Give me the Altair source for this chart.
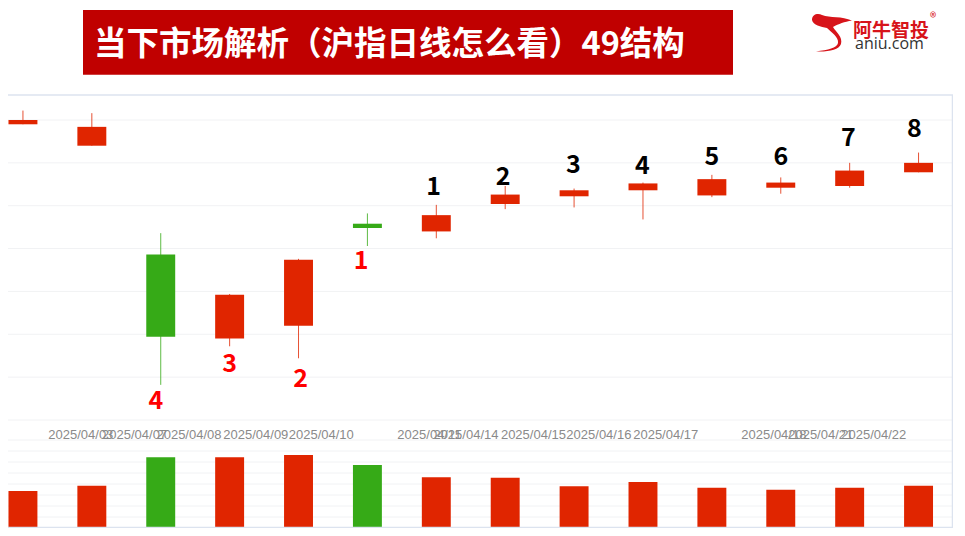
import altair as alt
import pandas as pd

# ---------------- data ----------------
dates = ["2025/04/02", "2025/04/03", "2025/04/07", "2025/04/08", "2025/04/09",
         "2025/04/10", "2025/04/11", "2025/04/14", "2025/04/15", "2025/04/16",
         "2025/04/17", "2025/04/18", "2025/04/21", "2025/04/22"]
open_ = [3345, 3320, 3193, 3095, 3110, 3229, 3220, 3252, 3261, 3268, 3262, 3271, 3273, 3289]
high = [3361, 3358, 3218, 3147, 3188, 3241, 3251, 3273, 3270, 3277, 3286, 3283, 3300, 3312]
low = [3345, 3320, 3041, 3086, 3072, 3203, 3212, 3246, 3248, 3234, 3260, 3264, 3271, 3289]
close = [3350, 3342, 3097, 3146, 3187, 3224, 3239, 3263, 3268, 3276, 3281, 3277, 3291, 3300]
volume = [3360, 3850, 6430, 6430, 6640, 5730, 4610, 4570, 3790, 4180, 3660, 3480, 3660, 3850]

# date tick labels and where the chart library placed them (in candle-index units)
tick_labels = ["2025/04/03", "2025/04/07", "2025/04/08", "2025/04/09", "2025/04/10",
               "2025/04/11", "2025/04/14", "2025/04/15", "2025/04/16", "2025/04/17",
               "2025/04/18", "2025/04/21", "2025/04/22"]
tick_pos = [0.84, 1.62, 2.41, 3.38, 4.33, 5.90, 6.43, 7.41, 8.36, 9.33, 10.90, 11.58, 12.35]

# annotation numbers
black_text = ["1", "2", "3", "4", "5", "6", "7", "8"]
black_pos = [5.96, 6.97, 7.99, 8.99, 10.0, 11.0, 11.98, 12.94]
black_price = [3272, 3284, 3297, 3296, 3307, 3307, 3329, 3340]
red_text = ["4", "3", "2", "1"]
red_pos = [1.93, 3.0, 4.03, 4.91]
red_price = [3022, 3065, 3048, 3185]

price_grid = [3000, 3050, 3100, 3150, 3200, 3250, 3300, 3350]
vol_grid = [0, 1000, 2000, 3000, 4000, 5000, 6000, 7000, 8000]

title_text = "当下市场解析（沪指日线怎么看）49结构"

# ---------------- frames ----------------
df = pd.DataFrame({
    "idx": list(range(len(dates))), "date": dates, "open": open_, "high": high,
    "low": low, "close": close, "volume": volume,
})
df["dir"] = ["up" if c >= o else "down" for o, c in zip(open_, close)]
ticks = pd.DataFrame({"pos": tick_pos, "label": tick_labels})
blk = pd.DataFrame({"pos": black_pos, "price": black_price, "t": black_text})
red = pd.DataFrame({"pos": red_pos, "price": red_price, "t": red_text})
pg = pd.DataFrame({"v": price_grid})
vg = pd.DataFrame({"v": vol_grid})
one = pd.DataFrame({"a": [0]})

W, H = 945, 520
X = alt.Scale(domain=[-0.217, 13.5], nice=False, zero=False)
YP = alt.Scale(domain=[3000, 3350], range=[412, 112], nice=False, zero=False)
YV = alt.Scale(domain=[0, 8000], range=[520, 432], nice=False, zero=False)
COL = alt.Scale(domain=["up", "down"], range=["#E02500", "#36AA17"])
color = alt.Color("dir:N", scale=COL, legend=None)

GRID = "#F1F2F4"
FRAME = "#DCE3EF"

# ---------------- price panel ----------------
p_grid = alt.Chart(pg).mark_rule(color=GRID, strokeWidth=1).encode(
    y=alt.Y("v:Q", scale=YP, axis=None), x=alt.value(0), x2=alt.value(W))
wick = alt.Chart(df).mark_rule(strokeWidth=1, opacity=0.8).encode(
    x=alt.X("idx:Q", scale=X, axis=None),
    y=alt.Y("low:Q", scale=YP, axis=None), y2="high:Q", color=color)
body = alt.Chart(df).transform_calculate(
    xl="datum.idx - 0.21", xr="datum.idx + 0.21").mark_bar().encode(
    x=alt.X("xl:Q", scale=X, axis=None), x2="xr:Q",
    y=alt.Y("open:Q", scale=YP, axis=None), y2="close:Q", color=color)
blk_t = alt.Chart(blk).mark_text(fontSize=25, fontWeight="bold", font="Noto Sans CJK SC",
                                 color="#000000", baseline="middle", align="center").encode(
    x=alt.X("pos:Q", scale=X, axis=None), y=alt.Y("price:Q", scale=YP, axis=None), text="t:N")
red_t = alt.Chart(red).mark_text(fontSize=25, fontWeight="bold", font="Noto Sans CJK SC",
                                 color="#FF0000", baseline="middle", align="center").encode(
    x=alt.X("pos:Q", scale=X, axis=None), y=alt.Y("price:Q", scale=YP, axis=None), text="t:N")
price_layer = alt.layer(p_grid, wick, body, blk_t, red_t)

# ---------------- volume panel ----------------
v_grid = alt.Chart(vg).mark_rule(color=GRID, strokeWidth=1).encode(
    y=alt.Y("v:Q", scale=YV, axis=None), x=alt.value(0), x2=alt.value(W))
v_bar = alt.Chart(df).transform_calculate(
    xl="datum.idx - 0.21", xr="datum.idx + 0.21", z="0").mark_bar().encode(
    x=alt.X("xl:Q", scale=X, axis=None), x2="xr:Q",
    y=alt.Y("volume:Q", scale=YV, axis=None), y2="z:Q", color=color)
vol_layer = alt.layer(v_grid, v_bar)

# ---------------- date labels ----------------
date_t = alt.Chart(ticks).mark_text(fontSize=13, font="Liberation Sans", color="#8A8A8A",
                                    baseline="middle", align="center").encode(
    x=alt.X("pos:Q", scale=X, axis=None), y=alt.value(427), text="label:N")

# ---------------- frame & header decorations ----------------
frame_top = alt.Chart(one).mark_rule(color=FRAME, strokeWidth=1.5).encode(
    x=alt.value(0), x2=alt.value(W), y=alt.value(87))
frame_bottom = alt.Chart(one).mark_rule(color=FRAME, strokeWidth=1.5).encode(
    x=alt.value(0), x2=alt.value(W), y=alt.value(519.5))
frame_right = alt.Chart(one).mark_rule(color=FRAME, strokeWidth=1.5).encode(
    x=alt.value(944.5), y=alt.value(87), y2=alt.value(520))

banner = alt.Chart(one).mark_rect(color="#C00000").encode(
    x=alt.value(75), x2=alt.value(725), y=alt.value(2), y2=alt.value(66.7))
banner_t = alt.Chart(one).mark_text(text=title_text, fontSize=32.5, fontWeight="bold",
                                    font="Noto Sans CJK SC", color="#FFFFFF",
                                    align="left", baseline="middle").encode(
    x=alt.value(86), y=alt.value(36.5))

logo_path = ("M -1 -0.65 C -1 -0.95 -0.7 -1 -0.5 -0.9 C -0.1 -0.75 0.5 -0.85 1 -0.62 "
             "C 0.6 -0.55 0.35 -0.45 0.05 -0.3 C 0.2 -0.05 0.55 0.2 0.45 0.55 "
             "C 0.35 0.85 -0.2 0.95 -0.8 0.92 C -0.2 0.85 0.25 0.75 0.3 0.5 "
             "C 0.35 0.2 -0.05 -0.05 -0.25 -0.25 C -0.55 -0.3 -0.95 -0.4 -1 -0.65 Z")
logo_mark = alt.Chart(one).mark_point(shape=logo_path, filled=True, size=1600,
                                      color="#D7141A", opacity=1).encode(
    x=alt.value(824), y=alt.value(25))
logo_cn = alt.Chart(one).mark_text(text="阿牛智投", fontSize=19, fontWeight="bold",
                                   font="Noto Sans CJK SC", color="#D7141A",
                                   align="left", baseline="middle").encode(
    x=alt.value(845), y=alt.value(23))
logo_r = alt.Chart(one).mark_text(text="®", fontSize=13, font="Noto Sans CJK SC",
                                  color="#D7141A", align="left", baseline="middle").encode(
    x=alt.value(922), y=alt.value(10))
logo_en = alt.Chart(one).mark_text(text="aniu.com", fontSize=16, font="Open Sans",
                                   color="#333333", align="left", baseline="middle").encode(
    x=alt.value(847), y=alt.value(36))

chart = alt.layer(
    price_layer, vol_layer, date_t,
    frame_top, frame_bottom, frame_right,
    banner, banner_t, logo_mark, logo_cn, logo_r, logo_en,
).resolve_scale(y="independent").properties(
    width=W, height=H, padding=0,
    autosize=alt.AutoSizeParams(type="none"),
    background="#FFFFFF",
).configure_view(stroke=None)

chart.save("out.html", embed_options={"renderer": "svg", "actions": False})
